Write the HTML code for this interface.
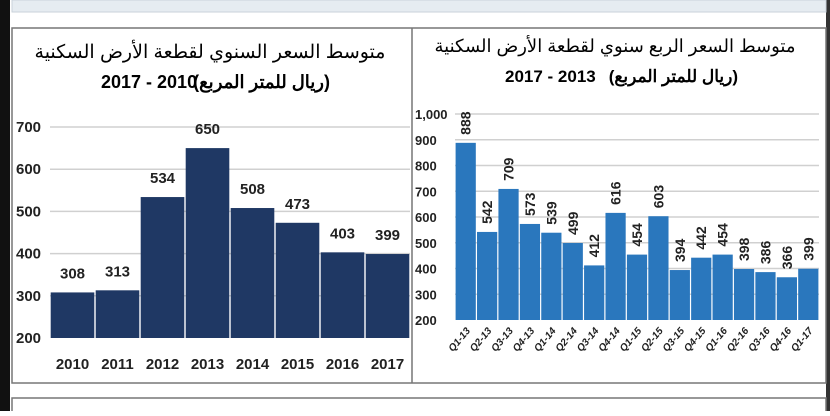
<!DOCTYPE html>
<html><head><meta charset="utf-8"><style>
body{margin:0;width:830px;height:411px;background:#fff;overflow:hidden;position:relative;font-family:"Liberation Sans","Noto Sans CJK SC",sans-serif}
</style></head><body>
<svg width="830" height="411" viewBox="0 0 830 411" xmlns="http://www.w3.org/2000/svg">
<rect x="0" y="0" width="830" height="411" fill="#fff"/>
<rect x="0" y="0" width="10" height="411" fill="#111"/>
<rect x="826" y="0" width="4" height="411" fill="#333"/>
<rect x="12" y="0" width="814" height="12" fill="#e6ecf1" stroke="#c9d2da"/>
<rect x="12" y="28" width="814" height="355" fill="#fff" stroke="#777" stroke-width="1.5"/>
<line x1="412" y1="28" x2="412" y2="383" stroke="#777" stroke-width="1.5"/>
<rect x="12" y="398" width="814" height="14" fill="#fff" stroke="#777" stroke-width="1.5"/>
<text x="210" y="58" text-anchor="middle" font-size="19" font-family="Liberation Sans, Noto Sans CJK SC, sans-serif">متوسط السعر السنوي لقطعة الأرض السكنية</text>
<g font-size="18" font-weight="bold" font-family="Liberation Sans, Noto Sans CJK SC, sans-serif">
<text x="101" y="88" text-anchor="start">2017 - 2010</text>
<text x="330" y="88" text-anchor="start" direction="rtl">(ريال للمتر المربع)</text>
</g>
<text x="615" y="52" text-anchor="middle" font-size="18" font-family="Liberation Sans, Noto Sans CJK SC, sans-serif">متوسط السعر الربع سنوي لقطعة الأرض السكنية</text>
<g font-size="17" font-weight="bold" font-family="Liberation Sans, Noto Sans CJK SC, sans-serif">
<text x="505" y="82" text-anchor="start">2017 - 2013</text>
<text x="738" y="82" text-anchor="start" direction="rtl">(ريال للمتر المربع)</text>
</g>
<g id="left"></g>
<g id="right"></g>
</svg>
<script>
const yearCats=["2010","2011","2012","2013","2014","2015","2016","2017"];
const yearVals=[308,313,534,650,508,473,403,399];
const yearTicks=[200,300,400,500,600,700];
const qCats=["Q1-13","Q2-13","Q3-13","Q4-13","Q1-14","Q2-14","Q3-14","Q4-14","Q1-15","Q2-15","Q3-15","Q4-15","Q1-16","Q2-16","Q3-16","Q4-16","Q1-17"];
const qVals=[888,542,709,573,539,499,412,616,454,603,394,442,454,398,386,366,399];
const qTicks=[200,300,400,500,600,700,800,900,1000];
const NS="http://www.w3.org/2000/svg";
function mk(p,tag,a){const e=document.createElementNS(NS,tag);for(const k in a)e.setAttribute(k,a[k]);p.appendChild(e);return e;}
(function(){
const g=document.getElementById('left');
const x0=50,x1=410,yB=338,yT=127,vmin=200,vmax=700;
const y=v=>yB-(v-vmin)/(vmax-vmin)*(yB-yT);
const bw=(x1-x0)/yearCats.length;
yearTicks.forEach(t=>{
 if(t>vmin){const l=mk(g,'line',{x1:x0,x2:x1,y1:y(t),y2:y(t),stroke:'#d0d0d0','stroke-width':1.5});
 
 }
 const tx=mk(g,'text',{x:16,y:y(t)+5,'font-size':15,'font-weight':'bold',fill:'#222','font-family':'Liberation Sans Narrow, Liberation Sans, sans-serif'});
 tx.textContent=t;
 
 
});
yearVals.forEach((v,i)=>{
 const r=mk(g,'rect',{x:x0+i*bw+0.7,y:y(v),width:bw-1.4,height:yB-y(v),fill:'#1f3864'});
 
 
 const lb=mk(g,'text',{x:x0+(i+0.5)*bw,y:y(v)-14,'text-anchor':'middle','font-size':15,'font-weight':'bold',fill:'#222','font-family':'Liberation Sans Narrow, Liberation Sans, sans-serif'});
 lb.textContent=v;
 
 
 const c=mk(g,'text',{x:x0+(i+0.5)*bw,y:369,'text-anchor':'middle','font-size':15,'font-weight':'bold',fill:'#222','font-family':'Liberation Sans Narrow, Liberation Sans, sans-serif'});
 c.textContent=yearCats[i];
 
 
});
})();
(function(){
const g=document.getElementById('right');
const x0=455,x1=819,yB=320,yT=114,vmin=200,vmax=1000;
const y=v=>yB-(v-vmin)/(vmax-vmin)*(yB-yT);
const bw=(x1-x0)/qCats.length;
qTicks.forEach(t=>{
 if(t>vmin){const l=mk(g,'line',{x1:x0,x2:x1,y1:y(t),y2:y(t),stroke:'#d0d0d0','stroke-width':1.5});
 
 }
 const tx=mk(g,'text',{x:415,y:y(t)+5,'font-size':13,'font-weight':'bold',fill:'#222','font-family':'Liberation Sans Narrow, Liberation Sans, sans-serif'});
 tx.textContent=t===1000?'1,000':t;
 
 
});
qVals.forEach((v,i)=>{
 const cx=x0+(i+0.5)*bw;
 const r=mk(g,'rect',{x:x0+i*bw+0.6,y:y(v),width:bw-1.2,height:yB-y(v),fill:'#2a77bd'});
 
 
 const lb=mk(g,'text',{x:0,y:0,'text-anchor':'start','font-size':14,'font-weight':'bold',fill:'#222',transform:`translate(${cx+5},${y(v)-8}) rotate(-90)`});
 lb.textContent=v;
 
 
 const c=mk(g,'text',{x:0,y:0,'text-anchor':'end','font-size':10,'font-weight':'bold','font-style':'italic',fill:'#222',transform:`translate(${cx+5},${331}) rotate(-50)`});
 c.textContent=qCats[i];
 
 
});
})();
</script>
</body></html>
